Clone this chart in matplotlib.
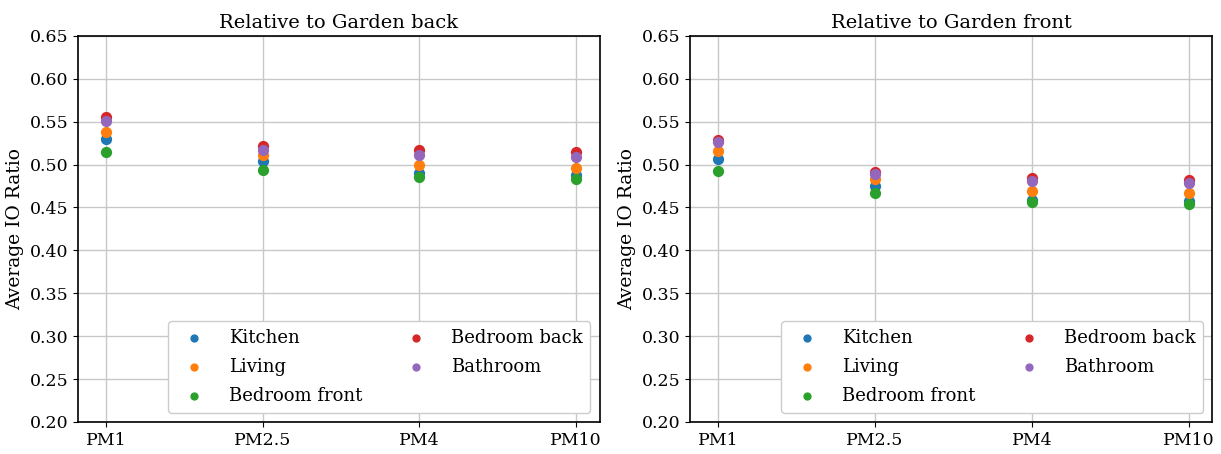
import matplotlib
matplotlib.use("Agg")
import matplotlib.pyplot as plt

plt.rcParams['font.family'] = ['DejaVu Serif']

categories = ["PM1", "PM2.5", "PM4", "PM10"]
rooms = ["Kitchen", "Living", "Bedroom front", "Bedroom back", "Bathroom"]
colors = ["#1f77b4", "#ff7f0e", "#2ca02c", "#d62728", "#9467bd"]

back_kitchen = [0.530, 0.504, 0.490, 0.488]
back_living = [0.538, 0.511, 0.500, 0.496]
back_bedroom_front = [0.515, 0.494, 0.485, 0.483]
back_bedroom_back = [0.556, 0.522, 0.517, 0.515]
back_bathroom = [0.551, 0.517, 0.511, 0.509]

front_kitchen = [0.506, 0.475, 0.459, 0.457]
front_living = [0.516, 0.483, 0.469, 0.467]
front_bedroom_front = [0.493, 0.467, 0.456, 0.454]
front_bedroom_back = [0.529, 0.491, 0.484, 0.482]
front_bathroom = [0.526, 0.489, 0.481, 0.479]

panels = [
    ("Relative to Garden back", [back_kitchen, back_living, back_bedroom_front, back_bedroom_back, back_bathroom]),
    ("Relative to Garden front", [front_kitchen, front_living, front_bedroom_front, front_bedroom_back, front_bathroom]),
]

fig = plt.figure(figsize=(12.21, 4.54), dpi=100)
positions = [[0.064, 0.0705, 0.427, 0.8505], [0.565, 0.0705, 0.428, 0.8505]]
xs = list(range(len(categories)))
for pos, (title, series) in zip(positions, panels):
    ax = fig.add_axes(pos)
    for name, vals, c in zip(rooms, series, colors):
        ax.scatter(xs, vals, s=50, color=c, label=name, zorder=3)
    ax.set_xticks(xs)
    ax.set_xticklabels(categories)
    ax.set_ylim(0.20, 0.65)
    ax.set_yticks([0.20 + 0.05 * i for i in range(10)])
    ax.set_yticklabels([f"{0.20 + 0.05 * i:.2f}" for i in range(10)])
    ax.set_xlim(-0.18, 3.15)
    ax.grid(True, color="#c8c8c8", linewidth=1.0)
    ax.set_axisbelow(True)
    ax.set_title(title, fontsize=14)
    ax.set_ylabel("Average IO Ratio", fontsize=13.5)
    ax.tick_params(labelsize=12.5)
    for sp in ax.spines.values():
        sp.set_linewidth(1.2)
    ax.legend(loc="lower right", ncol=2, fontsize=13, markerscale=0.7,
              handletextpad=0.9, columnspacing=2.0, labelspacing=0.6,
              borderpad=0.45, framealpha=1.0, fancybox=True)

fig.savefig("out.png", dpi=100)
